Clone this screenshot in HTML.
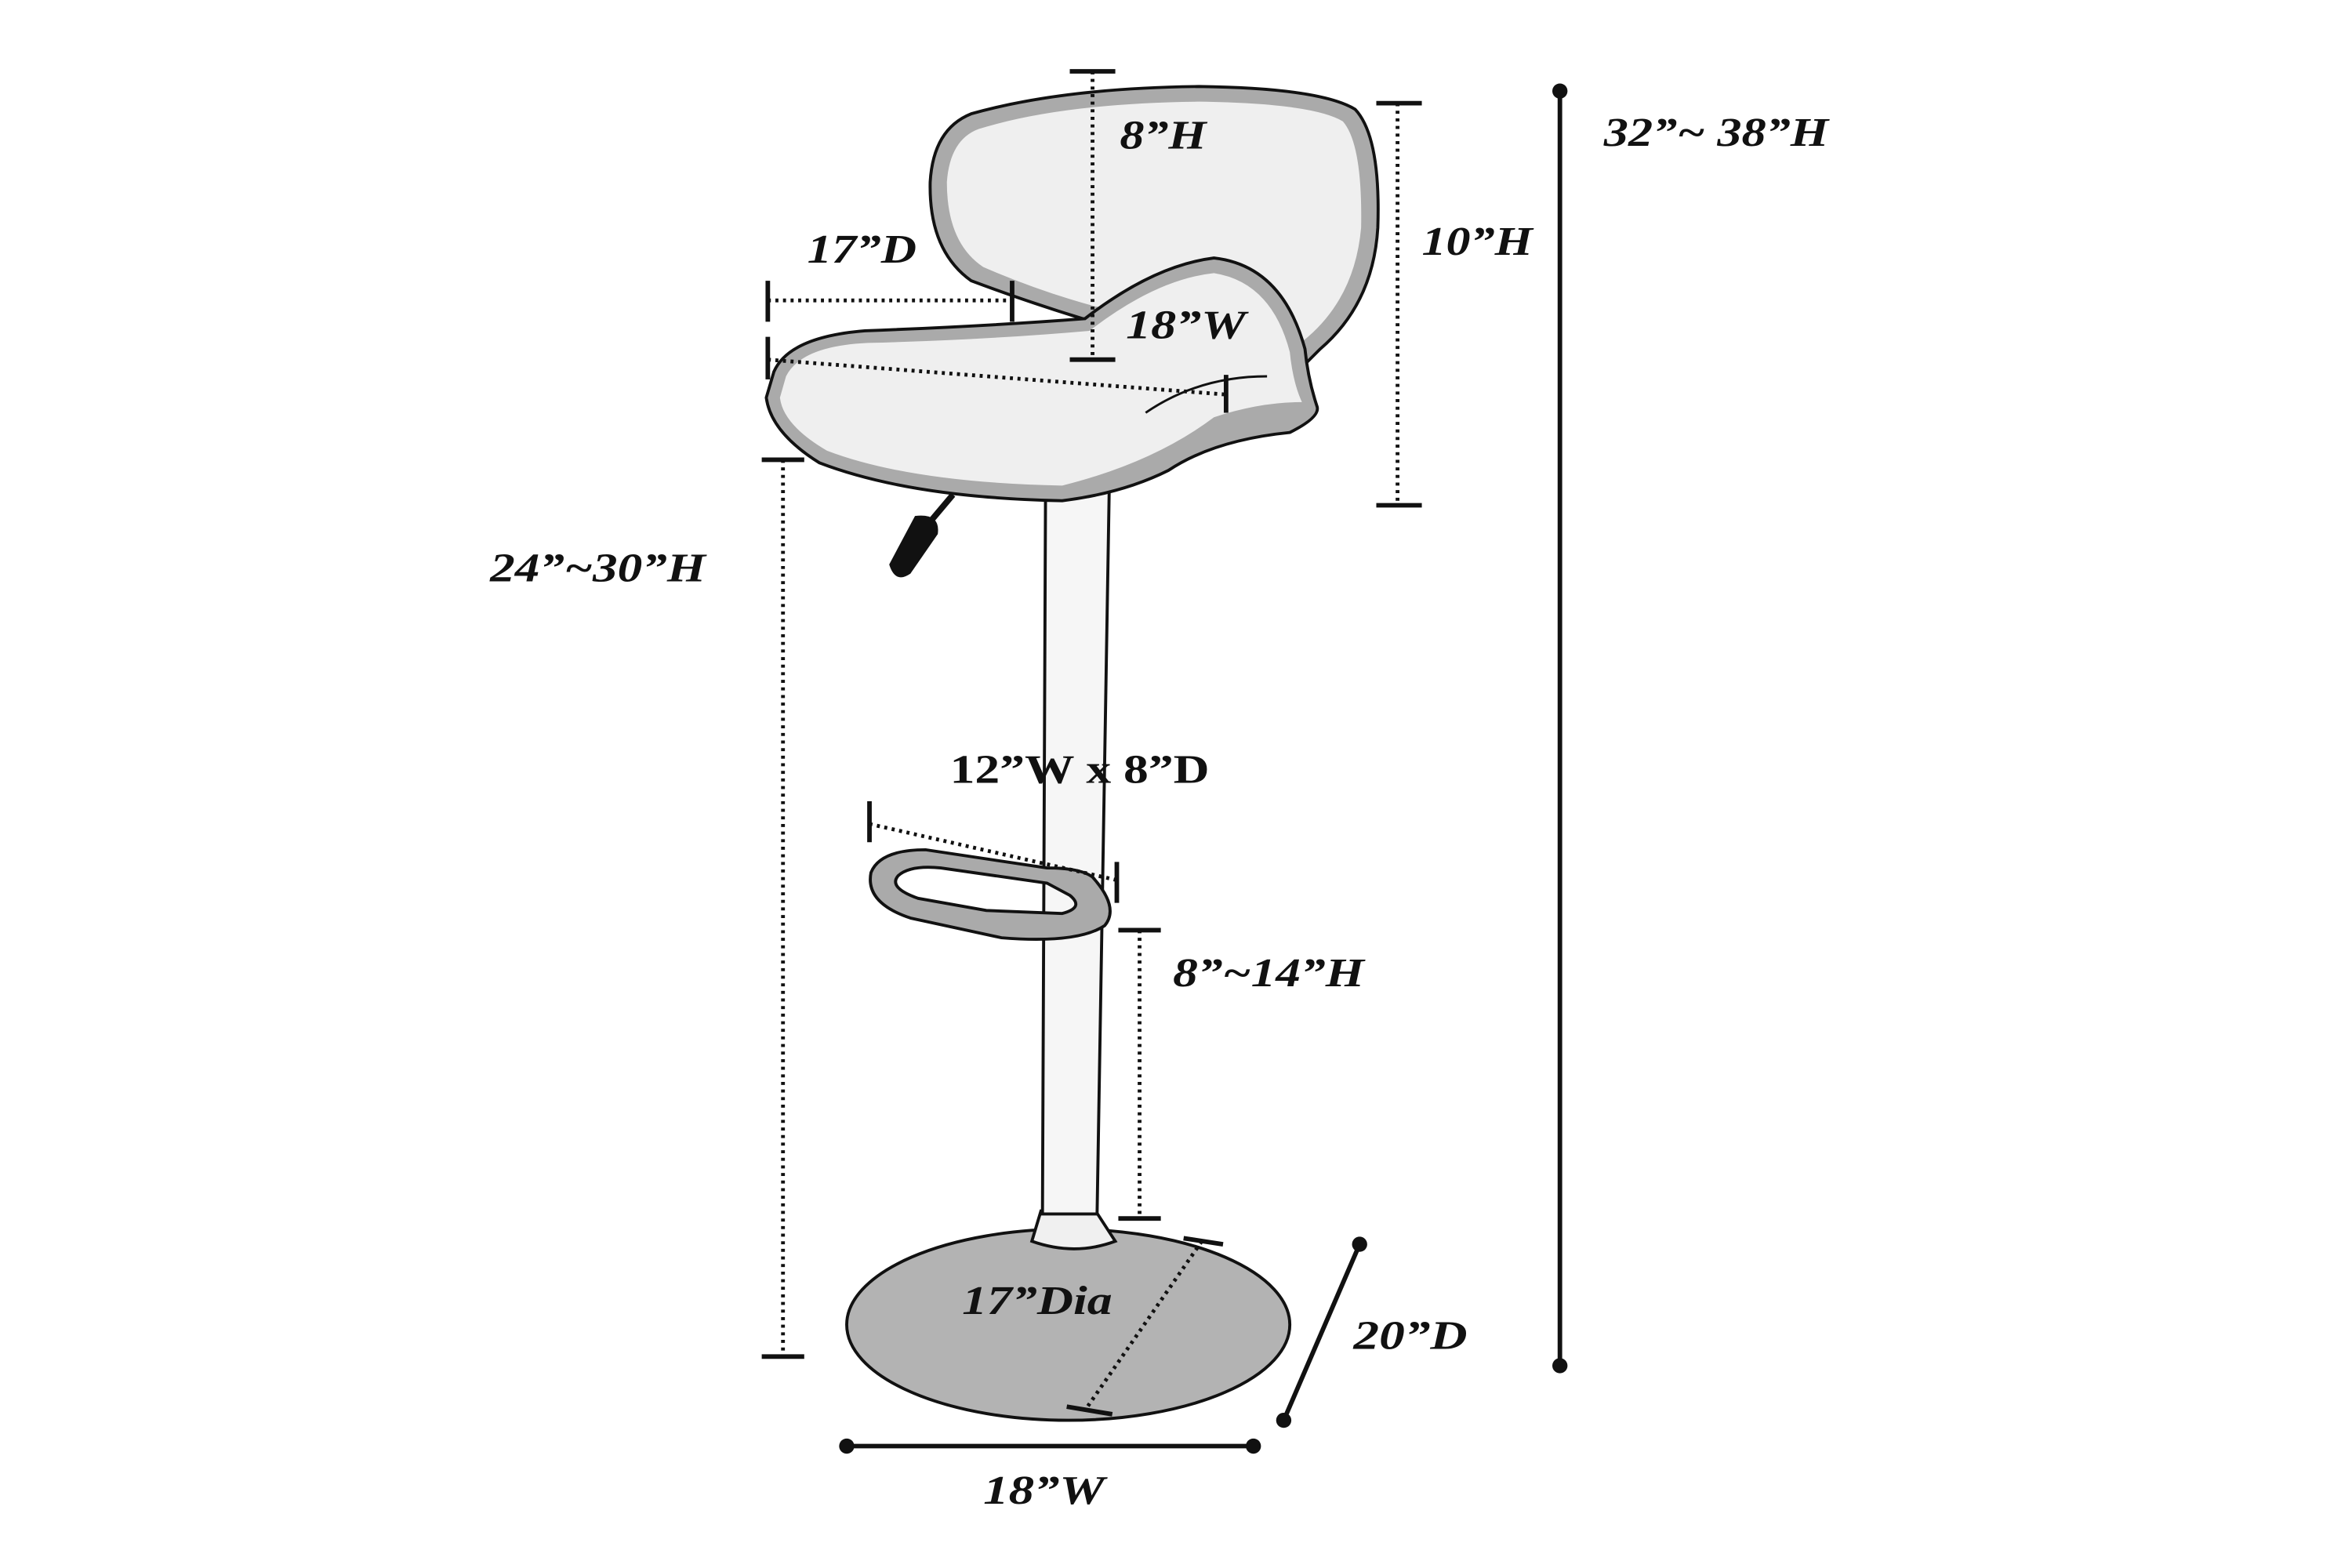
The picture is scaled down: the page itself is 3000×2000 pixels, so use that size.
<!DOCTYPE html>
<html><head><meta charset="utf-8"><style>
html,body{margin:0;padding:0;background:#fff;}
svg{display:block;}
text{font-family:"Liberation Serif",serif;font-weight:bold;font-style:italic;font-size:27px;fill:#111;}
</style></head><body>
<svg width="3000" height="2000" viewBox="0 0 1550 1033.33" xmlns="http://www.w3.org/2000/svg">
<rect width="1550" height="1034" fill="#fff"/>
<!-- base -->
<ellipse cx="704" cy="873" rx="146" ry="63" fill="#b3b3b3" stroke="#111" stroke-width="2"/>
<path d="M686 798 L722 798 L735 818 Q708 828 680 818 Z" fill="#f0f0f0" stroke="#111" stroke-width="2"/>
<!-- post -->
<path d="M689 328 L687 800 L723 800 L731 322" fill="#f6f6f6" stroke="#111" stroke-width="2"/>
<!-- footrest -->
<path d="M720 578 Q738 598 728 610 Q710 622 660 618 L600 605 Q570 595 574 575 Q580 560 610 560 L690 572 Q712 572 720 578 Z M705 590 Q715 598 700 602 L650 600 L605 592 Q585 585 592 577 Q600 570 620 572 L690 582 Z" fill="#aaa" fill-rule="evenodd" stroke="#111" stroke-width="2"/>
<!-- lever -->
<path d="M628 326 L612 345" stroke="#111" stroke-width="4"/>
<path d="M603 340 Q620 338 618 352 L600 378 Q590 385 586 372 Z" fill="#111"/>
<!-- backrest -->
<path d="M640 75 Q700 58 790 57 Q870 58 893 72 Q910 90 908 150 Q905 200 870 230 L855 245 L780 215 L720 212 Q680 200 640 185 Q612 165 613 120 Q615 85 640 75 Z" fill="#aaa" stroke="#111" stroke-width="2"/>
<path d="M645 85 Q700 68 790 67 Q865 68 885 80 Q898 95 897 150 Q893 195 862 222 L850 232 L780 206 L722 202 Q685 192 648 176 Q624 160 624 120 Q626 92 645 85 Z" fill="#efefef"/>
<!-- seat -->
<path d="M510 245 Q520 222 570 218 Q650 215 715 210 Q760 175 800 170 Q845 175 860 230 Q862 250 868 268 Q870 275 850 285 Q800 290 770 310 Q740 325 700 330 Q600 328 540 305 Q508 285 505 262 Z" fill="#aaa" stroke="#111" stroke-width="2"/>
<path d="M518 248 Q528 228 572 226 Q650 224 718 218 Q762 184 800 180 Q838 186 850 232 Q852 252 858 265 Q830 265 800 275 Q760 305 700 320 Q600 318 545 297 Q516 280 514 262 Z" fill="#efefef"/>
<path d="M755 272 Q790 248 835 248" fill="none" stroke="#111" stroke-width="1.5"/>
<!-- dimension lines -->
<g stroke="#111" stroke-width="3" fill="none">
<path d="M705 47 H735 M705 237 H735 M907 68 H937 M907 333 H937 M502 303 H530 M502 894 H530 M737 613 H765 M737 803 H765 M506 185 V212 M667 185 V212 M506 222 V250 M808 247 V272 M573 528 V555 M736 568 V595 M780 816 L806 820 M703 927 L733 932"/>
</g>
<g stroke="#111" stroke-width="2.5" stroke-dasharray="2 3" fill="none">
<path d="M720 47 V237 M921 68 V333 M516 303 V894 M751 613 V803 M506 198 H667 M506 237 L808 260 M573 543 L736 580 M792 818 L716 928"/>
</g>
<g stroke="#111" stroke-width="3">
<line x1="1028" y1="60" x2="1028" y2="900"/>
<line x1="896" y1="820" x2="846" y2="936"/>
<line x1="558" y1="953" x2="826" y2="953"/>
</g>
<g fill="#111">
<circle cx="1028" cy="60" r="5"/><circle cx="1028" cy="900" r="5"/>
<circle cx="896" cy="820" r="5"/><circle cx="846" cy="936" r="5"/>
<circle cx="558" cy="953" r="5"/><circle cx="826" cy="953" r="5"/>
</g>
<!-- labels -->
<text x="738" y="98" textLength="57" lengthAdjust="spacingAndGlyphs">8”H</text>
<text x="1057" y="96" textLength="148" lengthAdjust="spacingAndGlyphs">32”~ 38”H</text>
<text x="937" y="168" textLength="73" lengthAdjust="spacingAndGlyphs">10”H</text>
<text x="532" y="173" textLength="72" lengthAdjust="spacingAndGlyphs">17”D</text>
<text x="742" y="223" textLength="79" lengthAdjust="spacingAndGlyphs">18”W</text>
<text x="323" y="383" textLength="142" lengthAdjust="spacingAndGlyphs">24”~30”H</text>
<text x="626" y="516" style="font-style:normal" textLength="171" lengthAdjust="spacingAndGlyphs">12”W x 8”D</text>
<text x="773" y="650" textLength="126" lengthAdjust="spacingAndGlyphs">8”~14”H</text>
<text x="634" y="866" textLength="99" lengthAdjust="spacingAndGlyphs">17”Dia</text>
<text x="892" y="889" textLength="75" lengthAdjust="spacingAndGlyphs">20”D</text>
<text x="648" y="991" textLength="80" lengthAdjust="spacingAndGlyphs">18”W</text>
</svg>
</body></html>
